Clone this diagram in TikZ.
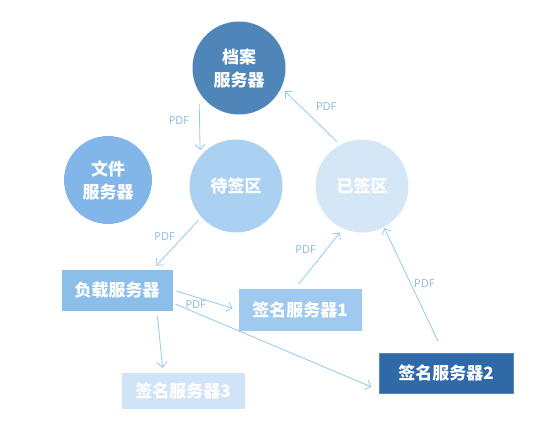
\documentclass[tikz,border=0pt]{standalone}
\usepackage{fontspec}
\setmainfont{Open Sans}
\newfontfamily\cjk{Noto Sans CJK SC}
\usepackage{tikz}
\usetikzlibrary{arrows.meta}
\definecolor{ArchiveBlue}{HTML}{4F86B9}
\definecolor{FileBlue}{HTML}{82B6E8}
\definecolor{PendingBlue}{HTML}{ABD1F2}
\definecolor{SignedBlue}{HTML}{D5E7F7}
\definecolor{LoadBlue}{HTML}{8CBEEA}
\definecolor{SignOneBlue}{HTML}{9FC9EF}
\definecolor{SignTwoBlue}{HTML}{2F69A7}
\definecolor{SignThreeBlue}{HTML}{CFE4F7}
\definecolor{ArrowBlue}{HTML}{90CBEB}
\definecolor{LabelBlue}{HTML}{8DB8E3}

\begin{document}
\begin{tikzpicture}[
  x=1pt,y=-1pt,
  circ/.style={circle,inner sep=0pt,minimum size=93pt,text=white,align=center,
    font=\cjk\bfseries\fontsize{17}{23}\selectfont},
  box/.style={rectangle,inner sep=0pt,minimum height=41pt,text=white,
    font=\cjk\bfseries\fontsize{17}{19}\selectfont},
  arrow/.style={-{Straight Barb[length=5pt,width=10pt]},draw=ArrowBlue,line width=0.8pt},
  lbl/.style={font=\fontsize{11}{13}\selectfont,text=LabelBlue,inner sep=2pt}
]
  \useasboundingbox (0,0) rectangle (554,432);

  % circles
  \node[circ,fill=ArchiveBlue] (archive) at (239,68) {档案\\服务器};
  \node[circ,fill=FileBlue,minimum size=88pt] (file) at (108,180) {文件\\服务器};
  \node[circ,fill=PendingBlue] (pending) at (236,186) {待签区};
  \node[circ,fill=SignedBlue] (signed) at (362,186) {已签区};

  % servers
  \node[box,fill=LoadBlue,minimum width=111pt] (load) at (117,290) {负载服务器};
  \node[box,fill=SignOneBlue,minimum width=123pt,minimum height=42pt] (sign1) at (300,310) {签名服务器1};
  \node[box,fill=SignTwoBlue,draw=SignTwoBlue!80!white,minimum width=134pt,minimum height=40pt] (sign2) at (446,373) {签名服务器2};
  \node[box,fill=SignThreeBlue,minimum width=123pt,minimum height=36pt] (sign3) at (183,391) {签名服务器3};

  % flows
  \draw[arrow,shorten <=12pt,shorten >=6pt] (archive.211) -- node[lbl,pos=.44,left=8pt]{PDF} (pending.140);
  \draw[arrow,shorten <=4pt,shorten >=5pt] (signed.118) -- node[lbl,pos=.5,above right=3pt]{PDF} (archive.-25);
  \draw[arrow,shorten <=4pt,shorten >=5pt] (pending.222) -- node[lbl,pos=.5,above left=0pt]{PDF} ([xshift=36pt]load.north);
  \draw[arrow,shorten <=4pt,shorten >=6pt] (load.east) -- node[lbl,pos=.35,below=1pt]{PDF} (sign1.west);
  \draw[arrow,shorten <=3pt,shorten >=8pt] ([yshift=-13pt]load.east) -- ([yshift=-17pt]sign2.west);
  \draw[arrow,shorten <=5pt,shorten >=5pt] ([xshift=40pt]load.south) -- ([xshift=-20pt]sign3.north);
  \draw[arrow,shorten <=6pt,shorten >=5pt] ([xshift=-5pt]sign1.north) -- node[lbl,pos=.65,left=8pt]{PDF} (signed.246);
  \draw[arrow,shorten <=13pt,shorten >=1pt] (sign2.97) -- node[lbl,pos=.55,right=1pt]{PDF} (signed.-62);
\end{tikzpicture}
\end{document}
